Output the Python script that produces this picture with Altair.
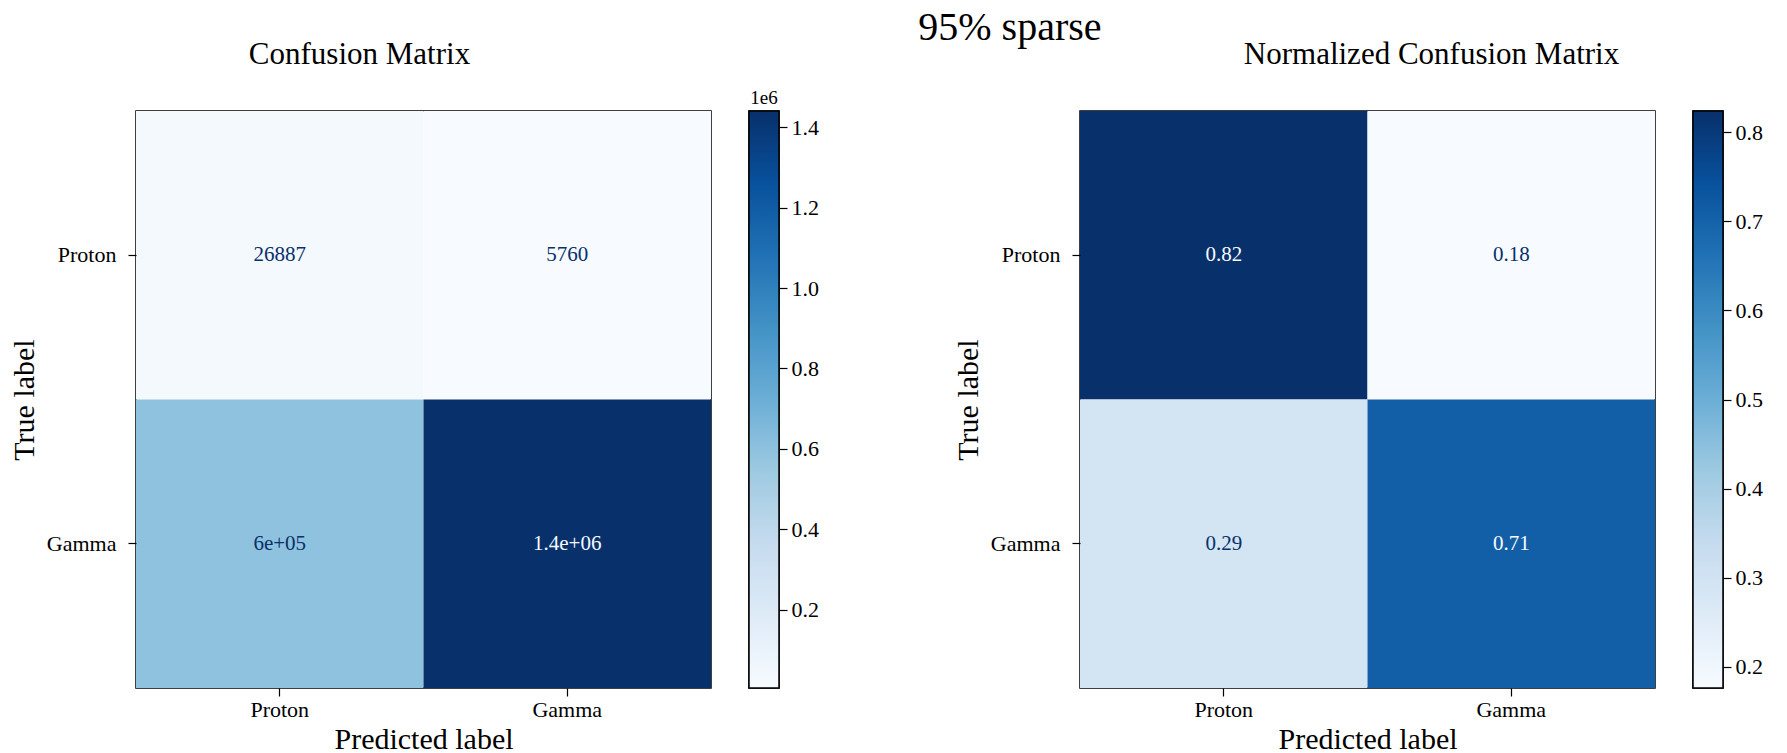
import altair as alt
import pandas as pd
import numpy as np

class_names = ["Proton", "Gamma"]
true_labels = ["Proton", "Proton", "Gamma", "Gamma"]
pred_labels = ["Proton", "Gamma", "Proton", "Gamma"]
counts = [26887, 5760, 598000, 1440000]
normalized = [0.8236, 0.1764, 0.2934, 0.7066]

count_ticks = [200000, 400000, 600000, 800000, 1000000, 1200000, 1400000]
norm_ticks = [0.2, 0.3, 0.4, 0.5, 0.6, 0.7, 0.8]

blues = ["#f7fbff", "#deebf7", "#c6dbef", "#9ecae1", "#6baed6",
         "#4292c6", "#2171b5", "#08519c", "#08306b"]

FONT = "Liberation Serif"
PLOT_W = 575
PLOT_H = 577
CB_W = 30


def fmt(v, is_int):
    t = format(v, ".2g")
    if is_int:
        d = format(int(v), "d")
        if len(d) < len(t):
            t = d
    return t


def panel(values, is_int, title, title_dx, ticks, label_expr, cb_title, key):
    lo, hi = min(values), max(values)
    thr = (lo + hi) / 2.0
    vfield = "v_" + key
    df = pd.DataFrame({
        "true": true_labels,
        "pred": pred_labels,
        vfield: values,
        "label": [fmt(v, is_int) for v in values],
        "tcolor": [blues[-1] if v < thr else blues[0] for v in values],
    })
    dom = list(np.linspace(lo, hi, len(blues)))
    base = alt.Chart(df).encode(
        x=alt.X("pred:N", sort=class_names, title="Predicted label",
                axis=alt.Axis(labelAngle=0, labelFontSize=22, titleFontSize=30,
                              labelFont=FONT, titleFont=FONT, titleFontWeight="normal",
                              domain=False, tickSize=8, tickWidth=1.2, tickColor="black",
                              labelColor="black", titleColor="black",
                              labelPadding=3, titlePadding=4)),
        y=alt.Y("true:N", sort=class_names, title="True label",
                axis=alt.Axis(labelFontSize=22, titleFontSize=30,
                              labelFont=FONT, titleFont=FONT, titleFontWeight="normal",
                              domain=False, tickSize=8, tickWidth=1.2, tickColor="black",
                              labelColor="black", titleColor="black",
                              labelPadding=12, titlePadding=7)),
    )
    heat = base.mark_rect().encode(
        color=alt.Color(vfield + ":Q",
                        scale=alt.Scale(domain=dom, range=blues, interpolate="rgb"),
                        legend=None)
    )
    text = base.mark_text(font=FONT, fontSize=21).encode(
        text="label:N",
        fill=alt.Fill("tcolor:N", scale=None),
    )
    heatmap = alt.layer(heat, text).properties(
        width=PLOT_W, height=PLOT_H,
        title=alt.TitleParams(title, fontSize=31, font=FONT, fontWeight="normal",
                              color="black", offset=40, anchor="middle", dx=title_dx),
    )

    cb_df = pd.DataFrame({"lo": [lo], "hi": [hi]})
    grad = alt.Gradient(
        gradient="linear",
        stops=[alt.GradientStop(color=c, offset=i / (len(blues) - 1)) for i, c in enumerate(blues)],
        x1=0, x2=0, y1=1, y2=0,
    )
    cbar = alt.Chart(cb_df).mark_rect(color=grad, stroke="black", strokeWidth=1.5).encode(
        x=alt.value(0), x2=alt.value(CB_W),
        y=alt.Y("lo:Q", scale=alt.Scale(domain=[lo, hi], nice=False, zero=False),
                axis=alt.Axis(orient="right", values=ticks, labelExpr=label_expr,
                              title=None, domain=False, grid=False, tickSize=8,
                              tickWidth=1.2, tickColor="black", labelColor="black",
                              labelFont=FONT, labelFontSize=22, labelPadding=4)),
        y2="hi:Q",
    )
    props = dict(width=CB_W, height=PLOT_H)
    if cb_title:
        props["title"] = alt.TitleParams(cb_title, fontSize=19, font=FONT, fontWeight="normal",
                                         color="black", offset=2, anchor="middle")
    cbar = cbar.properties(**props)
    return alt.hconcat(heatmap, cbar, spacing=35)


left = panel(counts, True, "Confusion Matrix", -64, count_ticks,
             "format(datum.value / 1e6, '.1f')", "1e6", "count")
right = panel(normalized, False, "Normalized Confusion Matrix", 64, norm_ticks,
              "format(datum.value, '.1f')", None, "norm")

chart = alt.hconcat(left, right, spacing=132).resolve_scale(
    color="independent", y="independent", x="independent"
).properties(
    title=alt.TitleParams("95% sparse", fontSize=40, font=FONT, fontWeight="normal",
                          color="black", anchor="middle", dx=124, offset=-10),
    padding={"left": 0, "top": 0, "right": 5, "bottom": 0},
    background="white",
).configure_view(stroke="black", strokeWidth=1.5)

chart.save("out.html", embed_options={"renderer": "svg", "actions": False})
